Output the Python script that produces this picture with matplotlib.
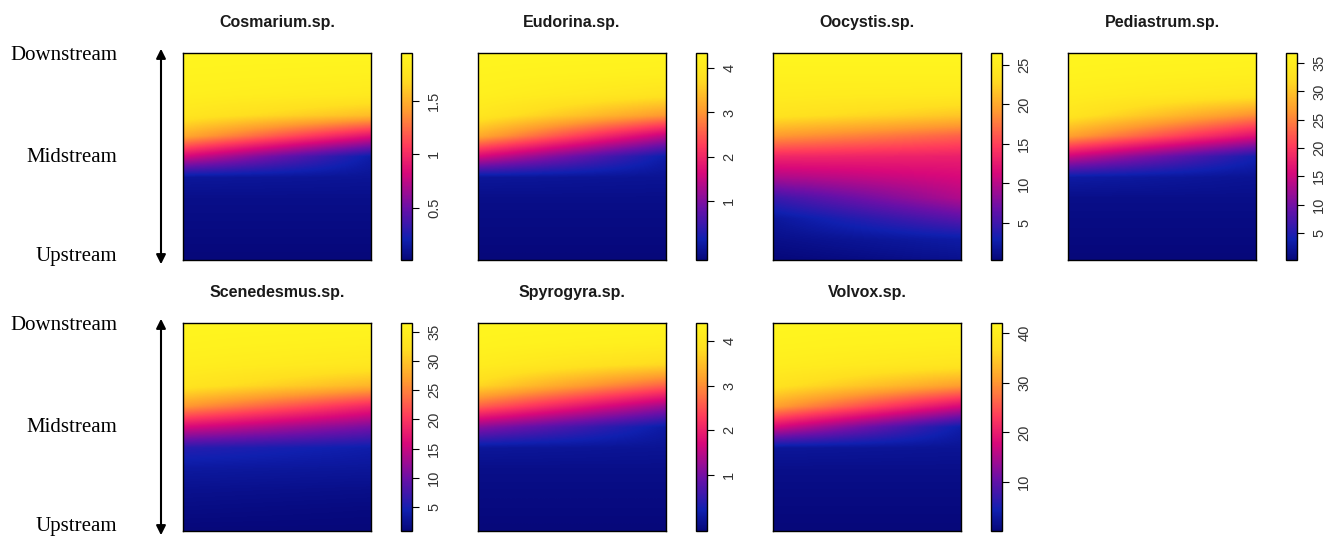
import numpy as np
import matplotlib
matplotlib.use("Agg")
import matplotlib.pyplot as plt
import matplotlib.patches as mpatches
from matplotlib.colors import LinearSegmentedColormap, Normalize

# fitted abundance, rows go upstream -> downstream (11 steps), left edge and right edge
species = ["Cosmarium.sp.", "Eudorina.sp.", "Oocystis.sp.", "Pediastrum.sp.",
           "Scenedesmus.sp.", "Spyrogyra.sp.", "Volvox.sp."]

cosmarium_left = [0.01, 0.03, 0.05, 0.07, 0.13, 0.82, 1.48, 1.79, 1.89, 1.93, 1.95]
cosmarium_right = [0.01, 0.03, 0.05, 0.07, 0.11, 0.18, 0.88, 1.56, 1.83, 1.91, 1.95]
eudorina_left = [-0.35, -0.30, -0.26, -0.21, -0.07, 1.62, 3.22, 3.97, 4.21, 4.30, 4.35]
eudorina_right = [-0.35, -0.30, -0.26, -0.21, -0.12, 0.07, 1.44, 3.03, 3.88, 4.21, 4.35]
oocystis_left = [0.3, 1.1, 1.9, 4.8, 9.5, 13.4, 19.2, 23.9, 25.2, 26.0, 26.5]
oocystis_right = [1.3, 2.4, 6.1, 9.7, 11.3, 12.9, 16.5, 21.8, 24.9, 26.0, 26.5]
pediastrum_left = [0.2, 0.6, 0.9, 1.3, 3.1, 14.8, 27.3, 33.5, 35.3, 36.4, 36.8]
pediastrum_right = [0.2, 0.6, 0.9, 1.3, 2.0, 4.2, 16.3, 25.8, 33.5, 35.7, 36.8]
scenedesmus_left = [0.9, 1.6, 2.3, 3.4, 5.9, 15.9, 26.5, 33.3, 35.1, 36.1, 36.5]
scenedesmus_right = [0.9, 1.3, 2.0, 3.0, 4.1, 10.5, 18.7, 28.7, 33.7, 35.4, 36.5]
spyrogyra_left = [-0.25, -0.20, -0.16, -0.11, 0.03, 1.15, 2.63, 3.75, 4.17, 4.35, 4.40]
spyrogyra_right = [-0.25, -0.20, -0.16, -0.11, -0.02, 0.12, 1.28, 2.63, 3.75, 4.21, 4.40]
volvox_left = [0.2, 0.6, 1.0, 1.5, 2.7, 17.8, 31.1, 37.8, 40.3, 41.6, 42.0]
volvox_right = [0.2, 0.6, 1.0, 1.5, 2.3, 4.0, 17.8, 30.7, 38.2, 40.8, 42.0]

left_vals = [cosmarium_left, eudorina_left, oocystis_left, pediastrum_left,
             scenedesmus_left, spyrogyra_left, volvox_left]
right_vals = [cosmarium_right, eudorina_right, oocystis_right, pediastrum_right,
              scenedesmus_right, spyrogyra_right, volvox_right]

bar_ticks = [[0.5, 1, 1.5], [1, 2, 3, 4], [5, 10, 15, 20, 25], [5, 10, 15, 20, 25, 30, 35],
             [5, 10, 15, 20, 25, 30, 35], [1, 2, 3, 4], [10, 20, 30, 40]]
bar_labels = [["0.5", "1", "1.5"], ["1", "2", "3", "4"], ["5", "10", "15", "20", "25"],
              ["5", "10", "15", "20", "25", "30", "35"], ["5", "10", "15", "20", "25", "30", "35"],
              ["1", "2", "3", "4"], ["10", "20", "30", "40"]]

stream_labels = ["Downstream", "Midstream", "Upstream"]

cmap = LinearSegmentedColormap.from_list("stream", [
    (0.00, "#06087a"), (0.10, "#1020b0"), (0.25, "#6a10a8"), (0.42, "#d8087a"),
    (0.55, "#ff3a5c"), (0.72, "#ff9a30"), (0.88, "#ffe020"), (1.00, "#fff51e")])

W, H = 1343, 545
fig = plt.figure(figsize=(W / 100, H / 100), dpi=100)

col_left = [183, 478, 773, 1068]
row_top = [53, 323]
row_h = [207, 208]

for i, name in enumerate(species):
    r, c = divmod(i, 4)
    x0 = col_left[c]
    ax = fig.add_axes([x0 / W, 1 - (row_top[r] + row_h[r]) / H, 188 / W, row_h[r] / H])
    z = np.column_stack([left_vals[i], right_vals[i]])
    n = z.shape[0]
    half = 0.5 / (n - 1)
    norm = Normalize(vmin=z.min(), vmax=z.max())
    im = ax.imshow(z, origin="lower", cmap=cmap, norm=norm, aspect="auto",
                   interpolation="bilinear", interpolation_stage="data",
                   extent=(-0.5, 1.5, -half, 1 + half))
    ax.set_xlim(0, 1)
    ax.set_ylim(0, 1)
    ax.set_xticks([])
    ax.set_yticks([])
    for s in ax.spines.values():
        s.set_linewidth(1.0)

    fig.text((x0 + 94) / W, 1 - (row_top[r] - 31) / H, name, ha="center", va="center",
             fontsize=11.5, fontweight="bold", family="Liberation Sans", color="#1a1a1a")

    cax = fig.add_axes([(x0 + 218) / W, 1 - (row_top[r] + row_h[r]) / H, 11 / W, row_h[r] / H])
    cb = fig.colorbar(im, cax=cax)
    cb.set_ticks(bar_ticks[i])
    cb.set_ticklabels(bar_labels[i])
    cb.outline.set_linewidth(1.0)
    cax.tick_params(axis="y", length=5, width=0.8, pad=6, labelsize=10.5)
    for lab in cax.get_yticklabels():
        lab.set_rotation(90)
        lab.set_va("center")
        lab.set_family("Liberation Sans")
        lab.set_color("#333333")

# stream position labels and arrows on the left
for r in range(2):
    top = row_top[r]
    bot = row_top[r] + row_h[r]
    ys = [top + 2, (top + bot) / 2 + 1, bot - 4]
    for lab, y in zip(stream_labels, ys):
        fig.text(117 / W, 1 - y / H, lab, ha="right", va="center", fontsize=15,
                 family="Liberation Serif")
    arr = mpatches.FancyArrowPatch((161 / W, 1 - (top - 7) / H), (161 / W, 1 - (bot + 7) / H),
                                   arrowstyle="<|-|>", mutation_scale=14, lw=1.5,
                                   color="black", transform=fig.transFigure)
    fig.add_artist(arr)

fig.savefig("out.png", dpi=100)
